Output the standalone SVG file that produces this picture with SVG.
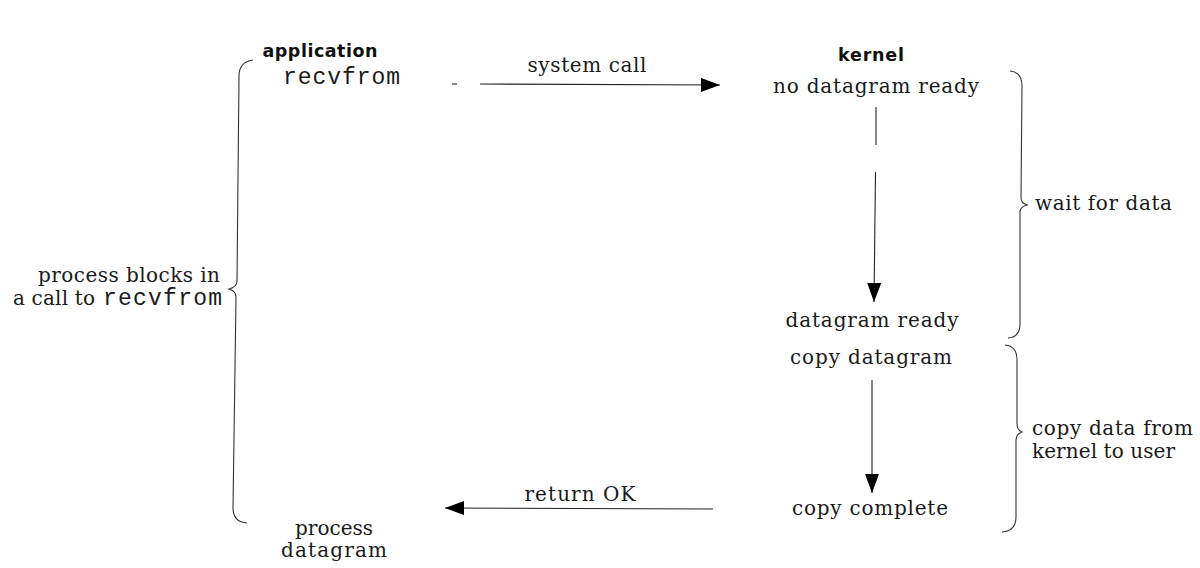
<svg xmlns="http://www.w3.org/2000/svg" width="1200" height="568" viewBox="0 0 1200 568">
  <style>
    .head { font-family: "DejaVu Sans", "Liberation Sans", sans-serif; font-weight: bold; font-size: 17.5px; fill: #111; }
    .lbl { font-family: "DejaVu Serif", "Liberation Serif", serif; font-size: 20px; fill: #1a1a1a; }
    .mono { font-family: "Liberation Mono", "DejaVu Sans Mono", monospace; font-size: 23px; fill: #1a1a1a; }
    .wire { fill: none; stroke: #222; stroke-width: 1.1; }
    .brace { fill: none; stroke: #333; stroke-width: 1.1; }
  </style>
  <defs>
    <marker id="arrow" markerUnits="userSpaceOnUse" markerWidth="19" markerHeight="14" refX="19" refY="7" orient="auto">
      <path d="M0,0 L19,7 L0,14 z" fill="#000"/>
    </marker>
  </defs>
  <rect width="1200" height="568" fill="#fff"/>

  <!-- column headings -->
  <g id="col-application">
    <text class="head" x="320" y="57" text-anchor="middle" textLength="115" lengthAdjust="spacing">application</text>
  </g>
  <g id="col-kernel">
    <text class="head" x="871" y="61" text-anchor="middle" textLength="66" lengthAdjust="spacing">kernel</text>
  </g>

  <!-- application side -->
  <g id="app-recvfrom">
    <text class="mono" x="283" y="84" textLength="117" lengthAdjust="spacing">recvfrom</text>
  </g>
  <g id="app-process">
    <text class="lbl" x="334" y="535" text-anchor="middle" textLength="78" lengthAdjust="spacing">process</text>
    <text class="lbl" x="334" y="557" text-anchor="middle" textLength="106" lengthAdjust="spacing">datagram</text>
  </g>
  <g id="app-blocks">
    <text class="lbl" x="220" y="282" text-anchor="end" textLength="182" lengthAdjust="spacing">process blocks in</text>
    <text x="13" y="305"><tspan class="lbl" textLength="82" lengthAdjust="spacing">a call to</tspan><tspan class="mono" x="103" textLength="119" lengthAdjust="spacing">recvfrom</tspan></text>
  </g>

  <!-- kernel side -->
  <g id="k-no-datagram">
    <text class="lbl" x="876" y="93" text-anchor="middle" textLength="206" lengthAdjust="spacing">no datagram ready</text>
  </g>
  <g id="k-datagram-ready">
    <text class="lbl" x="872" y="327" text-anchor="middle" textLength="173" lengthAdjust="spacing">datagram ready</text>
  </g>
  <g id="k-copy-datagram">
    <text class="lbl" x="871" y="364" text-anchor="middle" textLength="162" lengthAdjust="spacing">copy datagram</text>
  </g>
  <g id="k-copy-complete">
    <text class="lbl" x="870" y="515" text-anchor="middle" textLength="156" lengthAdjust="spacing">copy complete</text>
  </g>

  <!-- phase annotations -->
  <g id="phase-wait">
    <text class="lbl" x="1035" y="210" textLength="137" lengthAdjust="spacing">wait for data</text>
  </g>
  <g id="phase-copy">
    <text class="lbl" x="1032" y="435" textLength="161" lengthAdjust="spacing">copy data from</text>
    <text class="lbl" x="1032" y="458" textLength="143" lengthAdjust="spacing">kernel to user</text>
  </g>

  <!-- braces -->
  <g id="braces">
    <path class="brace" d="M253,60 Q239,62 239,76 L237,281 Q237,287 229,289 Q236,291 236,297 L233,508 Q233,522 247,523"/>
    <path class="brace" d="M1010,71 Q1022,72 1022,86 L1021,198 Q1021,203 1027,205 Q1020,207 1020,212 L1020,324 Q1020,337 1008,338"/>
    <path class="brace" d="M1005,345 Q1017,346 1017,360 L1017,424 Q1017,430 1022,432 Q1016,434 1016,440 L1016,517 Q1016,531 1002,532"/>
  </g>

  <!-- connectors -->
  <g id="connectors">
    <path class="wire" d="M452,84 L457,84"/>
    <path class="wire" d="M480,84 L720,85" marker-end="url(#arrow)"/>
    <text class="lbl" x="587" y="72" text-anchor="middle" textLength="119" lengthAdjust="spacing">system call</text>
    <path class="wire" d="M876,107 L876,145"/>
    <path class="wire" d="M875.5,172 L874,302" marker-end="url(#arrow)"/>
    <path class="wire" d="M872,380 L872,493" marker-end="url(#arrow)"/>
    <path class="wire" d="M713,509 L445,508" marker-end="url(#arrow)"/>
    <text class="lbl" x="580" y="501" text-anchor="middle" textLength="111" lengthAdjust="spacing">return OK</text>
  </g>
</svg>
